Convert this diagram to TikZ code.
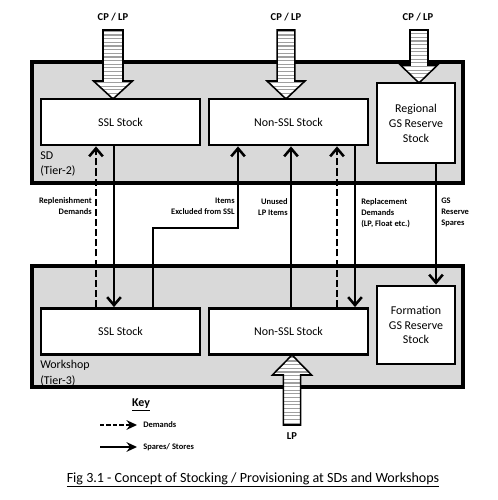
\documentclass[tikz,border=0pt]{standalone}
\usepackage{fontspec}
\setmainfont{Carlito}
\usetikzlibrary{arrows.meta}

\tikzset{
  tier/.style={draw, fill=gray!30, line width=2.4pt},
  stock/.style={draw, fill=white, line width=2pt, minimum width=3.975cm, minimum height=1.15cm, font=\fontsize{8.5}{10.6}\selectfont},
  reserve/.style={stock, minimum width=1.95cm, minimum height=1.95cm, align=center},
  feed/.style={draw, fill=white, line width=1.1pt, path picture={
      \foreach \k in {0,...,24}
        \draw[gray!75, line width=0.8pt] ([yshift=\k*2.6pt+1.3pt]path picture bounding box.south west) -- ([yshift=\k*2.6pt+1.3pt]path picture bounding box.south east);
    }},
  supply/.style={line width=1.8pt, -{Straight Barb[length=2mm,width=3.4mm]}},
  demand/.style={supply, dash pattern=on 5pt off 2.2pt},
  keyline/.style={line width=1.4pt, -{Stealth[length=2.6mm,width=2.4mm]}},
  note/.style={font=\bfseries\fontsize{6}{7.8}\selectfont, inner sep=0pt},
  tiertext/.style={font=\fontsize{8.5}{11.3}\selectfont, inner sep=0pt, align=left, anchor=west}
}

\begin{document}
\begin{tikzpicture}

\useasboundingbox (0,0) rectangle (12.45,12.5);

% SD and Workshop
\draw[tier] (0.8,7.925) rectangle (11.575,10.95);
\draw[tier] (0.8,2.825) rectangle (11.575,5.85);

% CP / LP and LP feeds
\draw[feed] (2.575,11.75) -- (3.075,11.75) -- (3.075,10.475) -- (3.3125,10.475) -- (2.825,10.025) -- (2.3375,10.475) -- (2.575,10.475) -- cycle;
\draw[feed] (6.93,11.75) -- (7.37,11.75) -- (7.37,10.475) -- (7.625,10.475) -- (7.15,10.025) -- (6.675,10.475) -- (6.93,10.475) -- cycle;
\draw[feed] (10.25,11.75) -- (10.7,11.75) -- (10.7,10.875) -- (10.94,10.875) -- (10.475,10.425) -- (10.01,10.875) -- (10.25,10.875) -- cycle;
\draw[feed] (7.085,1.875) -- (7.515,1.875) -- (7.515,3.125) -- (7.79,3.125) -- (7.3,3.625) -- (6.81,3.125) -- (7.085,3.125) -- cycle;

\node[font=\bfseries\fontsize{7.5}{8}\selectfont] (cpA) at (2.825,12.075) {CP / LP};
\node[font=\bfseries\fontsize{7.5}{8}\selectfont] (cpB) at (7.15,12.075) {CP / LP};
\node[font=\bfseries\fontsize{7.5}{8}\selectfont] (cpC) at (10.45,12.075) {CP / LP};
\node[font=\bfseries\fontsize{7.5}{8}\selectfont] (lp) at (7.3,1.6) {LP};

% stocks
\node[stock] (sslA) at (3.0125,9.45) {SSL Stock};
\node[stock] (nsslA) at (7.2125,9.45) {Non-SSL Stock};
\node[reserve, minimum height=2cm] (gsA) at (10.4,9.425) {Regional\\GS Reserve\\Stock};
\node[stock] (sslB) at (3.0125,4.2125) {SSL Stock};
\node[stock] (nsslB) at (7.2125,4.2125) {Non-SSL Stock};
\node[reserve] (gsB) at (10.4,4.375) {Formation\\GS Reserve\\Stock};

\node[tiertext] (sd) at (1.0,8.4) {SD\\(Tier-2)};
\node[tiertext] (ws) at (1.0,3.175) {Workshop\\(Tier-3)};

% flows
\coordinate (cA) at (2.4,0);
\coordinate (cB) at (2.85,0);
\coordinate (cC) at (3.825,6.8);
\coordinate (cD) at (5.95,6.8);
\coordinate (cE) at (7.275,0);
\coordinate (cF) at (8.425,0);
\coordinate (cG) at (8.875,0);
\coordinate (cH) at (10.9,0);

\draw[demand] (sslB.north -| cA) -- (sslA.south -| cA);
\draw[supply] (sslA.south -| cB) -- (sslB.north -| cB);
\draw[supply] (sslB.north -| cC) -- (cC) -- (cD) -- (nsslA.south -| cD);
\draw[supply] (nsslB.north -| cE) -- (nsslA.south -| cE);
\draw[demand] (nsslB.north -| cF) -- (nsslA.south -| cF);
\draw[supply] (nsslA.south -| cG) -- (nsslB.north -| cG);
\draw[supply] (gsA.south -| cH) -- (gsB.north -| cH);

\node[note, align=right, anchor=east] (repl) at (2.3,7.34) {Replenishment\\Demands};
\node[note, align=right, anchor=east] (excl) at (5.875,7.34) {Items\\Excluded from SSL};
\node[note, align=right, anchor=east] (unused) at (7.2,7.33) {Unused\\LP Items};
\node[note, align=left, anchor=west] (repc) at (9.025,7.175) {Replacement\\Demands\\(LP, Float etc.)};
\node[note, align=left, anchor=west] (gssp) at (11.025,7.2) {GS\\Reserve\\Spares};

% key
\node[font=\bfseries\fontsize{8.5}{9}\selectfont] (key) at (3.525,2.375) {\underline{Key}};
\node[note, anchor=west] (kdem) at (3.575,1.875) {Demands};
\node[note, anchor=west] (kspr) at (3.575,1.325) {Spares/ Stores};
\coordinate (kA) at (2.5,1.875);
\coordinate (kB) at (2.5,1.325);
\draw[keyline, dash pattern=on 3pt off 1.6pt] (kA) -- ([xshift=-1.5mm]kdem.west);
\draw[keyline] (kB) -- ([xshift=-1.5mm]kspr.west);

\node[font=\fontsize{10}{12}\selectfont] (caption) at (6.325,0.5) {\underline{Fig 3.1 - Concept of Stocking / Provisioning at SDs and Workshops}};

\end{tikzpicture}
\end{document}
